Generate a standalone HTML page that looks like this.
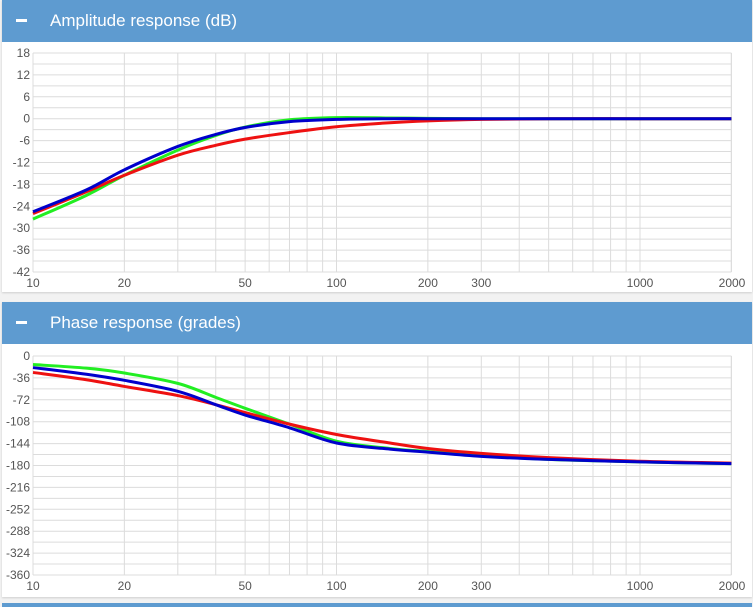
<!DOCTYPE html>
<html><head><meta charset="utf-8"><style>
body{margin:0;background:#f2f2f2;width:753px;height:607px;overflow:hidden;font-family:"Liberation Sans",sans-serif;position:relative}
.panel{position:absolute;left:2px;width:750px;background:#fff;box-shadow:0 1px 2px rgba(0,0,0,.15)}
.hdr{height:42px;background:#5e9bd0;color:#fff;font-size:17px;line-height:42px;position:relative}
.hdr .min{position:absolute;left:14px;top:19px;width:11px;height:3px;background:#fff}
.hdr .t{position:absolute;left:48px}
svg{position:absolute;left:-2px}
</style></head><body>
<div class="panel" style="top:0;height:292px">
<div class="hdr"><div class="min"></div><span class="t">Amplitude response (dB)</span></div>
<svg id="s1" width="753" height="250" style="top:42px"></svg>
</div>
<div class="panel" style="top:302px;height:295px">
<div class="hdr"><div class="min"></div><span class="t">Phase response (grades)</span></div>
<svg id="s2" width="753" height="253" style="top:43px"></svg>
</div>
<div style="position:absolute;left:2px;top:603px;width:750px;height:4px;background:#5e9bd0"></div>
<script>
const freqs=[10,15,20,30,40,50,70,100,150,200,300,500,1000,2000];
const ampBlue=[-25.5,-19.5,-14,-7.6,-4.3,-2.4,-0.8,-0.2,0,0,0,0,0,0];
const ampGreen=[-27.5,-21,-15.5,-8.6,-4.6,-2.3,-0.3,0.3,0.2,0.1,0,0,0,0];
const ampRed=[-26,-20,-15.5,-10,-7.3,-5.6,-3.8,-2.2,-1.1,-0.6,-0.2,0,0,0];
const phBlue=[-19,-30,-40,-58,-80,-97,-118,-143,-153,-158,-165,-170,-174,-177];
const phGreen=[-14,-20,-28,-45,-68,-86,-112,-140,-152,-157,-164,-170,-174,-177];
const phRed=[-27,-39,-50,-65,-80,-93,-112,-129,-143,-152,-160,-167,-173,-176];
const xTicks=[10,20,50,100,200,300,1000,2000];
const ampTicks=[18,12,6,0,-6,-12,-18,-24,-30,-36,-42];
const phTicks=[0,-36,-72,-108,-144,-180,-216,-252,-288,-324,-360];
const NS='http://www.w3.org/2000/svg';
const X0=33,DEC=303.5;
function xs(f){return X0+Math.log10(f/10)*DEC;}
function mk(svg,tag,a){const e=document.createElementNS(NS,tag);for(const k in a)e.setAttribute(k,a[k]);svg.appendChild(e);return e;}
function chart(id,ticks,top,bot,series,names){
 const svg=document.getElementById(id);
 const ymax=ticks[0],ymin=ticks[ticks.length-1];
 const ys=v=>top+(ymax-v)/(ymax-ymin)*(bot-top);
 const step=(ymax-ymin)/(ticks.length-1)/2;
 for(let v=ymin;v<=ymax+1e-9;v+=step){
  const l=mk(svg,'line',{x1:xs(10),x2:xs(2000),y1:ys(v),y2:ys(v),stroke:'#dcdcdc','stroke-width':1});
  
  
 }
 for(let d=10;d<2000;d*=10)for(let m=1;m<10;m++){
  const f=d*m;if(f>2000)break;
  const l=mk(svg,'line',{x1:xs(f),x2:xs(f),y1:top,y2:bot,stroke:'#dcdcdc','stroke-width':1});
  
  
 }
 const lv=mk(svg,'line',{x1:xs(2000),x2:xs(2000),y1:top,y2:bot,stroke:'#dcdcdc'});
 
 
 ticks.forEach(t=>{const e=mk(svg,'text',{x:30,y:ys(t)+4,'text-anchor':'end','font-size':12,fill:'#555'});e.textContent=t;
  
  });
 xTicks.forEach(t=>{const e=mk(svg,'text',{x:xs(t),y:bot+15,'text-anchor':t==2000?'end':'middle','font-size':12,fill:'#555'});if(t==2000)e.setAttribute('x',xs(t)+14);e.textContent=t;
  
  });
 series.forEach((s,i)=>{
  const P=freqs.map((f,j)=>[xs(f),ys(s.v[j])]);
  let d='M'+P[0][0]+','+P[0][1];
  for(let j=0;j<P.length-1;j++){const p0=P[Math.max(0,j-1)],p1=P[j],p2=P[j+1],p3=P[Math.min(P.length-1,j+2)];
   d+=' C'+(p1[0]+(p2[0]-p0[0])/6)+','+(p1[1]+(p2[1]-p0[1])/6)+' '+(p2[0]-(p3[0]-p1[0])/6)+','+(p2[1]-(p3[1]-p1[1])/6)+' '+p2[0]+','+p2[1];}
  const p=mk(svg,'path',{d:d,fill:'none',stroke:s.c,'stroke-width':3});
  
  
 });
}
chart('s1',ampTicks,11,230,[{v:ampGreen,c:'#22ee22'},{v:ampRed,c:'#ee1111'},{v:ampBlue,c:'#0000cc'}],['green-amplitude-line','red-amplitude-line','blue-amplitude-line']);
chart('s2',phTicks,11,230,[{v:phGreen,c:'#22ee22'},{v:phRed,c:'#ee1111'},{v:phBlue,c:'#0000cc'}],['green-phase-line','red-phase-line','blue-phase-line']);
</script>
</body></html>
